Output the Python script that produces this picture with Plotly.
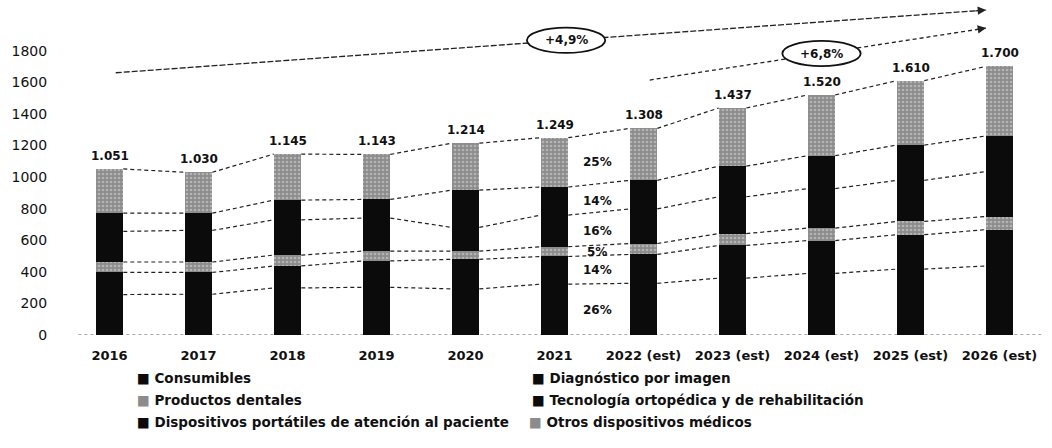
import plotly.graph_objects as go

# Mercado de dispositivos médicos por segmento (millones), 2016-2026
years = ["2016", "2017", "2018", "2019", "2020", "2021",
         "2022 (est)", "2023 (est)", "2024 (est)", "2025 (est)", "2026 (est)"]

consumibles = [256, 258, 298, 302, 292, 322, 327, 360, 390, 417, 437]
diagnostico = [140, 138, 139, 167, 187, 175, 183, 207, 208, 218, 230]
dentales = [66, 66, 69, 62, 52, 62, 69, 75, 79, 84, 83]
ortopedica = [194, 200, 223, 209, 150, 200, 219, 233, 250, 260, 285]
portatiles = [115, 109, 125, 118, 236, 178, 181, 194, 208, 223, 225]
otros = [280, 259, 291, 285, 297, 312, 329, 368, 385, 408, 440]

segment_names = [
    "Consumibles",
    "Diagnóstico por imagen",
    "Productos dentales",
    "Tecnología ortopédica y de rehabilitación",
    "Dispositivos portátiles de atención al paciente",
    "Otros dispositivos médicos",
]
segment_values = [consumibles, diagnostico, dentales, ortopedica, portatiles, otros]

y_ticks = [0, 200, 400, 600, 800, 1000, 1200, 1400, 1600, 1800]

BLACK = "#0b0b0b"
GRAY = "#8c8c8c"
segment_gray = [False, False, True, False, False, True]
FONT = "DejaVu Sans"
INK = "#111111"

x = list(range(len(years)))
totals = [sum(v[i] for v in segment_values) for i in x]
BAR_W = 0.31
half = BAR_W / 2

fig = go.Figure()

for name, vals, is_gray in zip(segment_names, segment_values, segment_gray):
    marker = dict(color=GRAY if is_gray else BLACK, line=dict(width=0))
    if is_gray:
        marker["pattern"] = dict(shape=".", fgcolor="#dcdcdc", size=4, solidity=0.35)
    fig.add_trace(go.Bar(x=x, y=vals, name=name, width=BAR_W, marker=marker,
                         showlegend=False, hoverinfo="skip"))

# dashed connectors between the segment boundaries of neighbouring bars
cum = [0] * len(x)
for vals in segment_values:
    cum = [c + v for c, v in zip(cum, vals)]
    lx, ly = [], []
    for i in range(len(x) - 1):
        lx += [x[i] + half, x[i + 1] - half, None]
        ly += [cum[i], cum[i + 1], None]
    fig.add_trace(go.Scatter(x=lx, y=ly, mode="lines", showlegend=False, hoverinfo="skip",
                             line=dict(color="#222222", width=1.2, dash="4px,3px")))

# baseline
fig.add_shape(type="line", xref="x", yref="y", x0=-0.35, x1=10.5, y0=0, y1=0,
              line=dict(color="#555555", width=1, dash="dot"), layer="below")

annotations = []

# totals above bars
for i, t in zip(x, totals):
    annotations.append(dict(x=i, y=t, text=f"{t:,}".replace(",", "."), showarrow=False,
                            yanchor="middle", yshift=13,
                            font=dict(family=FONT, size=12, color=INK, weight="bold")))

# 2021 shares next to its bar
ref = 5
base = 0
for vals in segment_values:
    share = vals[ref] / totals[ref] * 100
    annotations.append(dict(x=ref + 0.48, y=base + vals[ref] / 2, text=f"{share:.0f}%",
                            showarrow=False, yanchor="middle",
                            font=dict(family=FONT, size=12, color=INK, weight="bold")))
    base += vals[ref]

# CAGR trend arrows
def cagr(i0, i1):
    c = (totals[i1] / totals[i0]) ** (1 / (i1 - i0)) - 1
    return f"+{c * 100:.1f}%".replace(".", ",")

arrows = [
    # start index, end index, start y, end y, ellipse centre x, dash, label
    (0, 10, 1660, 2057, 5.13, "6px,2px", cagr(0, 10)),
    (6, 10, 1614, 1943, 8.0, "4px,3px", cagr(6, 10)),
]
for i0, i1, ya, yb, cx, dash, label in arrows:
    xa, xb = i0 + 0.07, i1 - 0.15
    fig.add_shape(type="line", xref="x", yref="y", x0=xa, y0=ya, x1=xb, y1=yb,
                  line=dict(color="#222222", width=1.3, dash=dash), layer="above")
    cy = ya + (cx - xa) / (xb - xa) * (yb - ya)
    fig.add_shape(type="circle", xref="x", yref="y", x0=cx - 0.44, x1=cx + 0.44,
                  y0=cy - 80, y1=cy + 80, fillcolor="white",
                  line=dict(color="#111111", width=1.8), layer="above")
    annotations.append(dict(x=cx, y=cy, text=label, showarrow=False, yanchor="middle",
                            font=dict(family=FONT, size=12, color=INK, weight="bold")))
    px_dx = (xb - xa) * 89
    px_dy = (yb - ya) * 0.158
    k = 12 / px_dx
    annotations.append(dict(x=xb, y=yb, ax=-12, ay=px_dy * k, text="", showarrow=True,
                            arrowhead=2, arrowsize=1.3, arrowwidth=1.3,
                            arrowcolor="#222222"))

# legend drawn as text rows
PLOT_L, PLOT_W, PLOT_B, PLOT_H = 65, 979, 335, 327
legend_pos = [(136, 378), (531, 378), (136, 400), (531, 400), (136, 422), (528, 422)]
for name, is_gray, (px, py) in zip(segment_names, segment_gray, legend_pos):
    sq = GRAY if is_gray else BLACK
    annotations.append(dict(xref="paper", yref="paper",
                            x=(px - PLOT_L) / PLOT_W, y=(PLOT_B - py) / PLOT_H,
                            xanchor="left", yanchor="middle", showarrow=False,
                            borderpad=0,
                            text=f'<span style="color:{sq}">■</span> {name}',
                            font=dict(family=FONT, size=13.5, color=INK, weight="bold")))

fig.update_layout(
    width=1052, height=448,
    margin=dict(l=65, r=8, t=8, b=113),
    barmode="stack",
    plot_bgcolor="white", paper_bgcolor="white",
    annotations=annotations,
    xaxis=dict(range=[-0.5, 10.5], tickvals=x, ticktext=years, showgrid=False,
               zeroline=False, showline=False, ticks="outside", ticklen=8,
               tickcolor="rgba(0,0,0,0)",
               tickfont=dict(family=FONT, size=13, color=INK, weight="bold")),
    yaxis=dict(range=[0, 2070], tickvals=y_ticks, showgrid=False, zeroline=False,
               showline=False, ticks="outside", ticklen=14, tickcolor="rgba(0,0,0,0)",
               tickfont=dict(family=FONT, size=14, color=INK)),
)

fig.write_html("out.html")
